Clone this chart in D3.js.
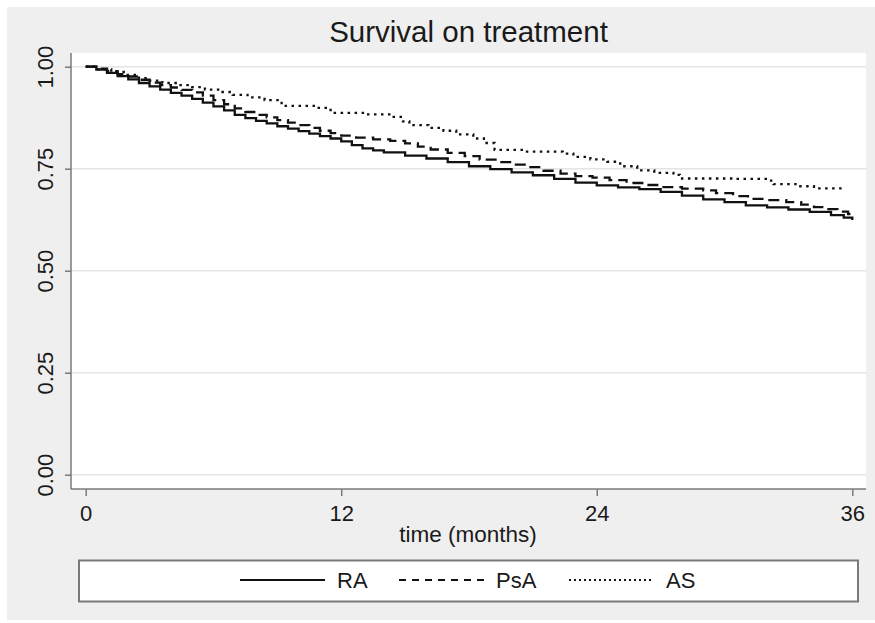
<!DOCTYPE html>
<html>
<head>
<meta charset="utf-8">
<script src="https://cdn.jsdelivr.net/npm/d3@7"></script>
<style>
  body { margin: 0; background: #fff; }
  text { font-family: "Liberation Sans", Arial, sans-serif; fill: #1a1a1a; }
</style>
</head>
<body>
<div id="chart"></div>
<script>
// Kaplan-Meier estimates: [month, survival]
const raSurvival = [
  [0,1.000],[0.5,0.993],[1,0.985],[1.5,0.977],[2,0.969],[2.5,0.960],[3,0.952],[3.5,0.944],
  [4,0.936],[4.5,0.929],[5,0.921],[5.5,0.912],[6,0.903],[6.5,0.893],[7,0.882],[7.5,0.874],
  [8,0.867],[8.5,0.861],[9,0.854],[9.5,0.848],[10,0.842],[10.5,0.836],[11,0.830],[11.5,0.824],
  [12,0.817],[12.5,0.808],[13,0.800],[13.5,0.795],[14,0.790],[15,0.782],[16,0.775],[17,0.766],
  [18,0.756],[19,0.749],[20,0.741],[21,0.734],[22,0.725],[23,0.716],[24,0.709],[25,0.704],
  [26,0.700],[27,0.693],[28,0.684],[29,0.675],[30,0.668],[31,0.660],[32,0.655],[33,0.650],
  [34,0.644],[35,0.636],[35.6,0.630],[36,0.624]
];
const psaSurvival = [
  [0,1.000],[0.5,0.995],[1,0.989],[1.5,0.982],[2,0.976],[2.5,0.968],[3,0.961],[3.5,0.955],
  [4,0.949],[4.5,0.943],[5,0.937],[5.5,0.929],[6,0.918],[6.5,0.908],[7,0.898],[7.5,0.889],
  [8,0.882],[8.5,0.876],[9,0.869],[9.5,0.863],[10,0.857],[10.5,0.850],[11,0.843],[11.5,0.837],
  [12,0.831],[12.7,0.826],[13.5,0.822],[14.3,0.818],[15,0.812],[15.6,0.804],[16.2,0.797],[17,0.789],
  [17.8,0.781],[18.5,0.772],[19.3,0.766],[20,0.760],[20.8,0.754],[21.5,0.745],[22.3,0.738],[23,0.732],
  [23.8,0.728],[24.6,0.722],[25.4,0.715],[26.2,0.710],[27,0.705],[28,0.701],[29,0.697],[29.6,0.690],
  [30.4,0.683],[31.1,0.676],[32,0.673],[32.9,0.668],[33.6,0.662],[34.2,0.656],[34.8,0.651],[35.3,0.645],
  [35.8,0.639],[36,0.639]
];
const asSurvival = [
  [0,1.000],[0.6,0.994],[1.2,0.987],[1.9,0.980],[2.5,0.972],[3,0.966],[3.6,0.960],[4.3,0.955],
  [5,0.950],[5.6,0.944],[6.3,0.938],[6.9,0.931],[7.6,0.925],[8.4,0.918],[9.2,0.904],[10.8,0.899],
  [11.5,0.887],[13.2,0.883],[14.4,0.877],[14.9,0.866],[15.2,0.857],[16.1,0.850],[16.8,0.843],[17.4,0.834],
  [18.2,0.824],[18.7,0.813],[19.2,0.796],[20.6,0.792],[22.4,0.787],[22.9,0.779],[23.7,0.773],[24.5,0.767],
  [25.1,0.756],[25.9,0.746],[26.7,0.740],[27.6,0.735],[27.9,0.726],[30.5,0.725],[32,0.721],[32.3,0.712],
  [33.4,0.707],[34.2,0.702],[35.7,0.702]
];

const seriesNames = ["RA", "PsA", "AS"];
const xTicks = [0, 12, 24, 36];
const yTicks = [0, 0.25, 0.5, 0.75, 1];

const width = 875, height = 623;
const plot = { left: 71, right: 866, top: 53, bottom: 489 };

const svg = d3.select("#chart").append("svg")
    .attr("width", width)
    .attr("height", height);

// outer grey panel (white strip top/left like the original export)
svg.append("rect").attr("x", 7).attr("y", 7)
    .attr("width", width - 7).attr("height", 613)
    .attr("fill", "#efefef");

svg.append("rect")
    .attr("x", plot.left).attr("y", plot.top)
    .attr("width", plot.right - plot.left).attr("height", plot.bottom - plot.top)
    .attr("fill", "#fff");

const x = d3.scaleLinear().domain([0, 36]).range([85.7, 852.3]);
const y = d3.scaleLinear().domain([0, 1]).range([474.7, 66.7]);

// gridlines
svg.append("g").selectAll("line")
    .data(yTicks)
    .enter().append("line")
    .attr("x1", plot.left).attr("x2", plot.right)
    .attr("y1", d => y(d)).attr("y2", d => y(d))
    .attr("stroke", "#e4e4e4")
    .attr("stroke-width", 1.5);

// axes
const yAxis = svg.append("g")
    .attr("transform", `translate(${plot.left},0)`)
    .call(d3.axisLeft(y).tickValues(yTicks).tickFormat(d3.format(".2f")).tickSize(6).tickSizeOuter(0));
yAxis.select(".domain").attr("d", `M0,${plot.top}V${plot.bottom}`);
yAxis.selectAll("text")
    .attr("transform", "rotate(-90)")
    .attr("x", 0).attr("y", -18)
    .attr("dy", 0)
    .attr("text-anchor", "middle");

const xAxis = svg.append("g")
    .attr("transform", `translate(0,${plot.bottom})`)
    .call(d3.axisBottom(x).tickValues(xTicks).tickSize(7).tickSizeOuter(0));
xAxis.select(".domain").attr("d", `M${plot.left},0H${plot.right}`);
xAxis.selectAll("text").attr("y", 16).attr("dy", "0.71em");

[yAxis, xAxis].forEach(a => {
  a.selectAll(".domain, line").attr("stroke", "#7a7a7a").attr("stroke-width", 1.5);
  a.selectAll("text").style("font-size", "22px").style("font-family", "Liberation Sans, Arial, sans-serif").attr("fill", "#1a1a1a");
});

// title and axis label
svg.append("text")
    .attr("x", (plot.left + plot.right) / 2).attr("y", 42)
    .attr("text-anchor", "middle")
    .style("font-size", "29.5px")
    .text("Survival on treatment");

svg.append("text")
    .attr("x", 468).attr("y", 542)
    .attr("text-anchor", "middle")
    .style("font-size", "22.5px")
    .text("time (months)");

// survival curves
const styles = [
  { data: raSurvival, dash: null },
  { data: psaSurvival, dash: "11,6" },
  { data: asSurvival, dash: "2.5,4.5" }
];

const line = d3.line()
    .x(d => x(d[0]))
    .y(d => y(d[1]))
    .curve(d3.curveStepAfter);

svg.append("g").selectAll("path")
    .data(styles)
    .enter().append("path")
    .attr("d", d => line(d.data))
    .attr("fill", "none")
    .attr("stroke", "#111")
    .attr("stroke-width", 2.3)
    .attr("stroke-dasharray", d => d.dash);

// legend
const legend = svg.append("g");
legend.append("rect")
    .attr("x", 79).attr("y", 560.5)
    .attr("width", 779).attr("height", 41)
    .attr("fill", "#fff")
    .attr("stroke", "#7a7a7a")
    .attr("stroke-width", 2);

const legendX = [240, 399, 569];
const legendDash = [null, "7,6", "2,3"];
seriesNames.forEach((name, i) => {
  legend.append("line")
      .attr("x1", legendX[i]).attr("x2", legendX[i] + 85)
      .attr("y1", 580).attr("y2", 580)
      .attr("stroke", "#111")
      .attr("stroke-width", 2)
      .attr("stroke-dasharray", legendDash[i]);
  legend.append("text")
      .attr("x", legendX[i] + 97).attr("y", 588)
      .style("font-size", "22px")
      .text(name);
});
</script>
</body>
</html>
